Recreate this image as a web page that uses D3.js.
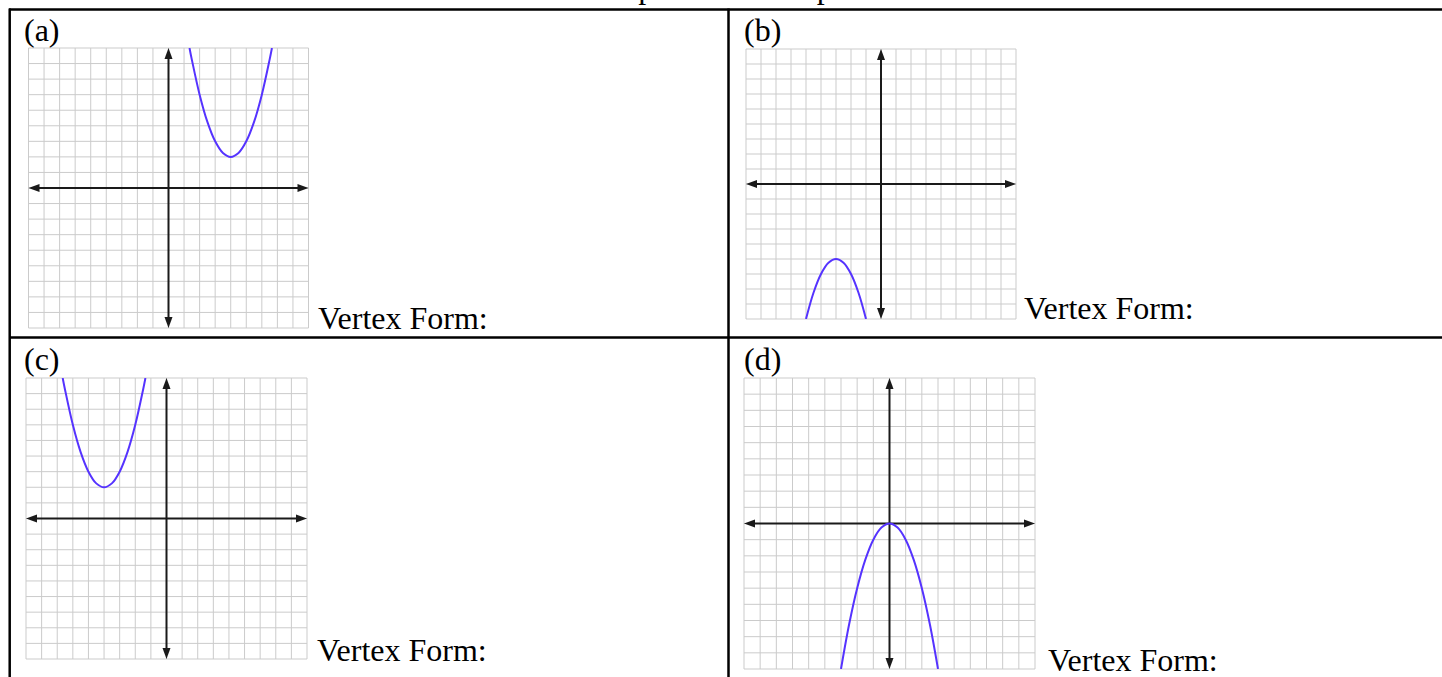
<!DOCTYPE html>
<html lang="en">
<head>
<meta charset="UTF-8" />
<title>Vertex Form</title>
<script src="https://d3js.org/d3.v7.min.js"></script>
<style>
  body { margin: 0; background: #fff; }
  svg { display: block; }
  text { font-family: 'Liberation Serif', 'Times New Roman', serif; fill: #000; font-size: 32px; }
  .grid line { stroke: #cbcbcb; stroke-width: 1; }
  .axis { stroke: #1a1a1a; stroke-width: 2; }
  .arrow { fill: #1a1a1a; }
  .curve { fill: none; stroke: #5533ff; stroke-width: 2; }
  .rule { stroke: #000; stroke-width: 2.5; }
</style>
</head>
<body>
<svg width="1442" height="677"></svg>
<script>
// values
const title = 'Complete the four parabolas in vertex form';
const labels = ['(a)', '(b)', '(c)', '(d)'];
const answerText = 'Vertex Form:';
const gridTicks = [-9, -8, -7, -6, -5, -4, -3, -2, -1, 0, 1, 2, 3, 4, 5, 6, 7, 8, 9];

const curveA = [[1.35, 9], [1.5, 8.25], [2, 6], [2.5, 4.25], [3, 3], [3.5, 2.25], [4, 2],
  [4.5, 2.25], [5, 3], [5.5, 4.25], [6, 6], [6.5, 8.25], [6.65, 9]];
const curveB = [[-5, -9], [-4.5, -7.25], [-4, -6], [-3.5, -5.25], [-3, -5],
  [-2.5, -5.25], [-2, -6], [-1.5, -7.25], [-1, -9]];
const curveC = [[-6.65, 9], [-6.5, 8.25], [-6, 6], [-5.5, 4.25], [-5, 3], [-4.5, 2.25], [-4, 2],
  [-3.5, 2.25], [-3, 3], [-2.5, 4.25], [-2, 6], [-1.5, 8.25], [-1.35, 9]];
const curveD = [[-3, -9], [-2.5, -6.25], [-2, -4], [-1.5, -2.25], [-1, -1], [-0.5, -0.25], [0, 0],
  [0.5, -0.25], [1, -1], [1.5, -2.25], [2, -4], [2.5, -6.25], [3, -9]];
const curves = [curveA, curveB, curveC, curveD];

// page layout
const boxes = [
  { x: 28.5, y: 48, size: 280, textX: 318, textY: 329, labelX: 24, labelY: 41 },
  { x: 746, y: 49, size: 270, textX: 1024, textY: 319, labelX: 744, labelY: 41 },
  { x: 26, y: 378, size: 281, textX: 317, textY: 661, labelX: 24, labelY: 370 },
  { x: 744, y: 378, size: 291, textX: 1048, textY: 671, labelX: 744, labelY: 370 }
];

const svg = d3.select('svg');

// title line above the table (only descenders show)
svg.append('text').attr('x', 576).attr('y', -2).text(title);

// table rules
const rules = [
  [9, 9.5, 1442, 9.5],
  [9, 337.5, 1442, 337.5],
  [9.7, 8.5, 9.7, 677],
  [728.5, 8.5, 728.5, 677]
];
svg.append('g').selectAll('line').data(rules).join('line')
  .attr('class', 'rule')
  .attr('x1', d => d[0]).attr('y1', d => d[1])
  .attr('x2', d => d[2]).attr('y2', d => d[3]);

boxes.forEach((b, i) => {
  const x = d3.scaleLinear().domain([-9, 9]).range([b.x, b.x + b.size]);
  const y = d3.scaleLinear().domain([-9, 9]).range([b.y + b.size, b.y]);
  const g = svg.append('g');

  const grid = g.append('g').attr('class', 'grid');
  grid.selectAll('.v').data(gridTicks).join('line').attr('class', 'v')
    .attr('x1', d => x(d)).attr('x2', d => x(d))
    .attr('y1', y(-9)).attr('y2', y(9));
  grid.selectAll('.h').data(gridTicks).join('line').attr('class', 'h')
    .attr('y1', d => y(d)).attr('y2', d => y(d))
    .attr('x1', x(-9)).attr('x2', x(9));

  // axes with arrowheads
  const al = 11, aw = 4;
  g.append('line').attr('class', 'axis')
    .attr('x1', x(-9) + 4).attr('x2', x(9) - 4).attr('y1', y(0)).attr('y2', y(0));
  g.append('line').attr('class', 'axis')
    .attr('y1', y(-9) - 4).attr('y2', y(9) + 4).attr('x1', x(0)).attr('x2', x(0));
  const heads = [
    [[x(9), y(0)], [x(9) - al, y(0) - aw], [x(9) - al, y(0) + aw]],
    [[x(-9), y(0)], [x(-9) + al, y(0) - aw], [x(-9) + al, y(0) + aw]],
    [[x(0), y(9)], [x(0) - aw, y(9) + al], [x(0) + aw, y(9) + al]],
    [[x(0), y(-9)], [x(0) - aw, y(-9) - al], [x(0) + aw, y(-9) - al]]
  ];
  g.selectAll('.arrow').data(heads).join('path').attr('class', 'arrow')
    .attr('d', d => 'M' + d.map(p => p.join(',')).join('L') + 'Z');

  // parabola, clipped to the grid
  const clipId = 'clip' + i;
  g.append('clipPath').attr('id', clipId).append('rect')
    .attr('x', x(-9)).attr('y', y(9)).attr('width', b.size).attr('height', b.size);
  const line = d3.line().x(d => x(d[0])).y(d => y(d[1])).curve(d3.curveCatmullRom.alpha(0.5));
  g.append('path').attr('class', 'curve').attr('clip-path', `url(#${clipId})`)
    .attr('d', line(curves[i]));

  g.append('text').attr('x', b.labelX).attr('y', b.labelY).text(labels[i]);
  g.append('text').attr('x', b.textX).attr('y', b.textY).text(answerText);
});
</script>
</body>
</html>
